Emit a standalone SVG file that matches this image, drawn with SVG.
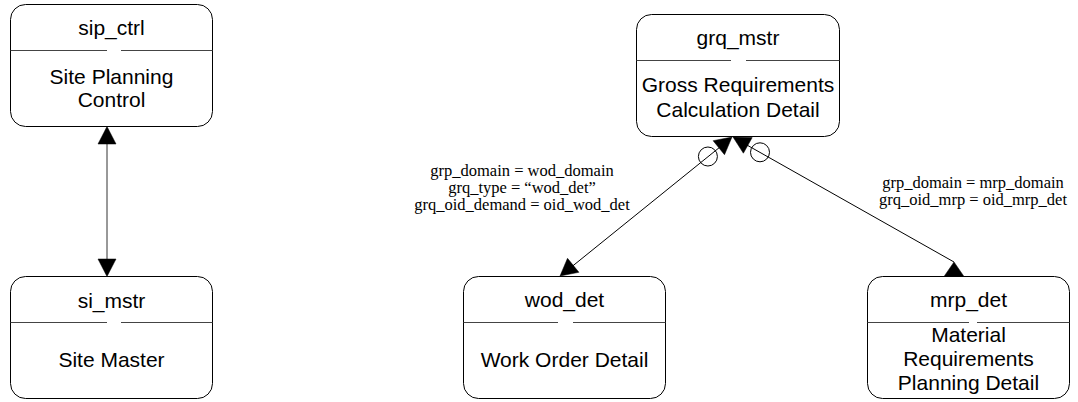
<svg xmlns="http://www.w3.org/2000/svg" width="1078" height="402" viewBox="0 0 1078 402">
<style>
.box{fill:#fff;stroke:#000;stroke-width:1}
.hdr{stroke:#444;stroke-width:1}
.nt{font-family:"Liberation Sans",Arial,sans-serif;font-size:21px;fill:#000;text-anchor:middle}
.lbl{font-family:"Liberation Serif","Times New Roman",serif;font-size:16.5px;fill:#000;text-anchor:middle}
.cn{stroke:#000;stroke-width:1;fill:none}
.ah{fill:#000;stroke:#000;stroke-width:0.5}
.ring{fill:none;stroke:#000;stroke-width:1}
</style>
<rect width="1078" height="402" fill="#fff"/>
<g id="connectors">
  <line class="cn" x1="107" y1="140" x2="107" y2="262" style="stroke:#333"/>
  <polygon class="ah" points="107,126.5 98,144 116,144"/>
  <polygon class="ah" points="107,276.5 98,259 116,259"/>
  <line class="cn" x1="720" y1="147" x2="572" y2="266.5"/>
  <polygon class="ah" points="732,137 724.5,154.7 713.1,140.7"/>
  <circle class="ring" cx="707.9" cy="156.5" r="9.5"/>
  <polygon class="ah" points="560,276 578.9,272.3 567.5,258.3"/>
  <line class="cn" x1="746" y1="144.5" x2="954" y2="262"/>
  <polygon class="ah" points="733,137 743.4,153.2 752.2,137.6"/>
  <circle class="ring" cx="760" cy="152.3" r="9.5"/>
  <polygon class="ah" points="954,262 944,276.5 964,276.5"/>
  <text class="lbl" x="522" y="176">grp_domain = wod_domain</text>
  <text class="lbl" x="522" y="193">grq_type = “wod_det”</text>
  <text class="lbl" x="522" y="210">grq_oid_demand = oid_wod_det</text>
  <text class="lbl" x="973" y="188">grp_domain = mrp_domain</text>
  <text class="lbl" x="973" y="205">grq_oid_mrp = oid_mrp_det</text>
</g>
<g id="sip_ctrl">
  <rect class="box" x="10.5" y="4.5" width="202" height="122" rx="15"/>
  <line class="hdr" x1="10.5" y1="50.5" x2="107" y2="50.5"/>
  <line class="hdr" x1="121" y1="50.5" x2="212.5" y2="50.5"/>
  <text class="nt" x="111.5" y="35">sip_ctrl</text>
  <text class="nt" x="111.5" y="84">Site Planning</text>
  <text class="nt" x="111.5" y="107">Control</text>
</g>
<g id="si_mstr">
  <rect class="box" x="10.5" y="276.5" width="202" height="122" rx="15"/>
  <line class="hdr" x1="10.5" y1="322.5" x2="107" y2="322.5"/>
  <line class="hdr" x1="121" y1="322.5" x2="212.5" y2="322.5"/>
  <text class="nt" x="111.5" y="308">si_mstr</text>
  <text class="nt" x="111.5" y="367">Site Master</text>
</g>
<g id="grq_mstr">
  <rect class="box" x="636.5" y="14.5" width="203" height="122" rx="15"/>
  <line class="hdr" x1="636.5" y1="60.5" x2="731" y2="60.5"/>
  <line class="hdr" x1="746" y1="60.5" x2="839.5" y2="60.5"/>
  <text class="nt" x="738" y="45">grq_mstr</text>
  <text class="nt" x="738" y="92">Gross Requirements</text>
  <text class="nt" x="738" y="117">Calculation Detail</text>
</g>
<g id="wod_det">
  <rect class="box" x="463.5" y="276.5" width="202" height="122" rx="15"/>
  <line class="hdr" x1="463.5" y1="322.5" x2="558" y2="322.5"/>
  <line class="hdr" x1="573" y1="322.5" x2="665.5" y2="322.5"/>
  <text class="nt" x="564.5" y="307">wod_det</text>
  <text class="nt" x="564.5" y="367">Work Order Detail</text>
</g>
<g id="mrp_det">
  <rect class="box" x="867.5" y="276.5" width="202" height="122" rx="15"/>
  <line class="hdr" x1="867.5" y1="322.5" x2="969" y2="322.5"/>
  <line class="hdr" x1="977" y1="322.5" x2="1069.5" y2="322.5"/>
  <text class="nt" x="968.5" y="307">mrp_det</text>
  <text class="nt" x="968.5" y="342">Material</text>
  <text class="nt" x="968.5" y="366">Requirements</text>
  <text class="nt" x="968.5" y="390">Planning Detail</text>
</g>
</svg>
